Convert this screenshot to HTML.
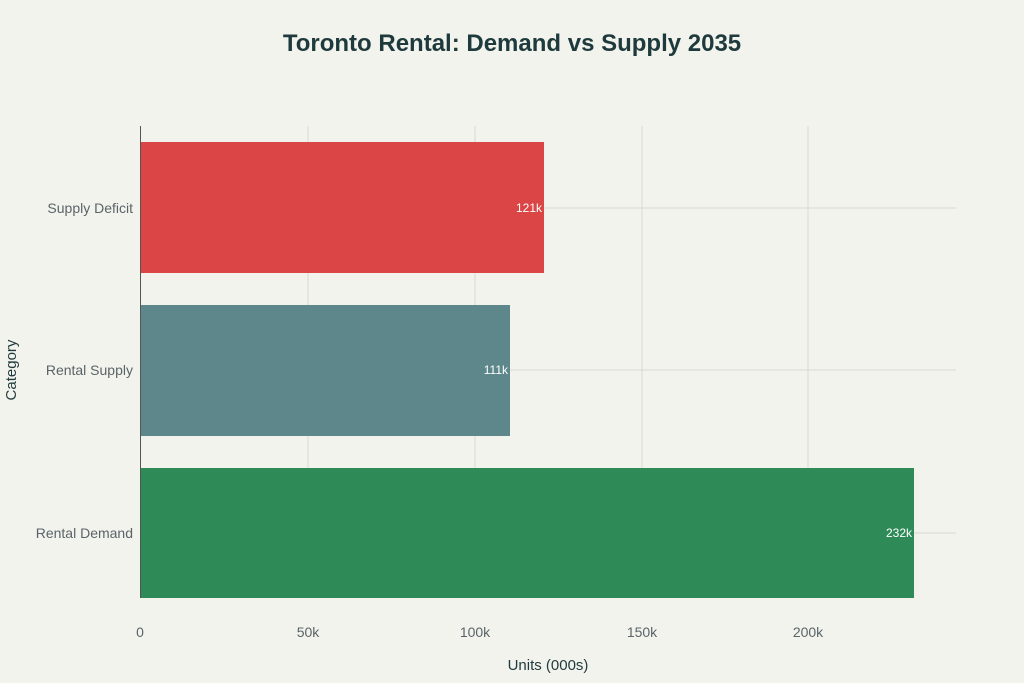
<!DOCTYPE html>
<html><head><meta charset="utf-8"><style>
html,body{margin:0;padding:0;background:#f3f3ee;}
svg{display:block;font-family:"Liberation Sans",sans-serif;}
</style></head><body>
<svg width="1024" height="683" xmlns="http://www.w3.org/2000/svg">
<rect width="1024" height="683" fill="#f3f3ee"/>
<text x="512" y="51" text-anchor="middle" font-size="24" font-weight="bold" fill="#1f3a3d">Toronto Rental: Demand vs Supply 2035</text>
<g stroke="#d8d8d3" stroke-width="1">
<line x1="308" y1="126" x2="308" y2="598"/>
<line x1="475" y1="126" x2="475" y2="598"/>
<line x1="642" y1="126" x2="642" y2="598"/>
<line x1="808" y1="126" x2="808" y2="598"/>
<line x1="140" y1="208" x2="956" y2="208"/>
<line x1="140" y1="370" x2="956" y2="370"/>
<line x1="140" y1="533" x2="956" y2="533"/>
</g>
<rect x="140" y="142" width="404" height="131" fill="#db4545"/>
<rect x="140" y="305" width="370" height="131" fill="#5d878b"/>
<rect x="140" y="468" width="774" height="130" fill="#2e8b57"/>
<line x1="140.5" y1="126" x2="140.5" y2="598" stroke="#555" stroke-width="1"/>
<g font-size="12" fill="#fff" text-anchor="end">
<text x="542" y="212">121k</text>
<text x="508" y="374">111k</text>
<text x="912" y="537">232k</text>
</g>
<g font-size="14" fill="#5a6468" text-anchor="end">
<text x="133" y="213">Supply Deficit</text>
<text x="133" y="375">Rental Supply</text>
<text x="133" y="538">Rental Demand</text>
</g>
<g font-size="14" fill="#5a6468" text-anchor="middle">
<text x="140" y="637">0</text>
<text x="308" y="637">50k</text>
<text x="475" y="637">100k</text>
<text x="642" y="637">150k</text>
<text x="808" y="637">200k</text>
</g>
<text x="548" y="670" text-anchor="middle" font-size="15" fill="#1f3a3d">Units (000s)</text>
<text transform="translate(16,370) rotate(-90)" text-anchor="middle" font-size="15" fill="#1f3a3d">Category</text>
</svg>
</body></html>
